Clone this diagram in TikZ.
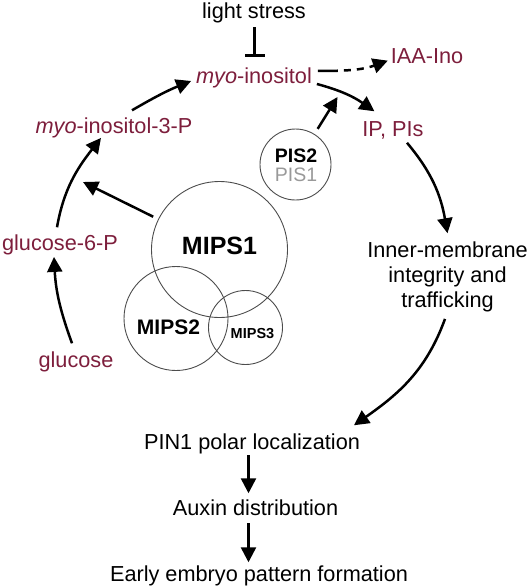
\documentclass[tikz,border=0pt]{standalone}
\usepackage{fontspec}
\setmainfont{Liberation Sans}
\usetikzlibrary{arrows.meta,calc}
\definecolor{metcol}{RGB}{125,30,60}
\begin{document}
\begin{tikzpicture}[x=1pt,y=1pt,
  every node/.style={inner sep=0pt, outer sep=0pt, font=\fontsize{21.7}{25}\selectfont},
  met/.style={text=metcol},
  arr/.style={line width=2.5pt, -{Triangle[length=15pt,width=15pt]}},
  ring/.style={circle, draw=black!70, line width=0.9pt, minimum size=#1},
  bigbold/.style={font=\fontsize{#1}{#1}\selectfont\bfseries}]
\useasboundingbox (0,0) rectangle (531,-587);
% text nodes
\node[anchor=base] (ls) at (254,-18) {light stress};
\node[anchor=base, met] (mi) at (254,-83) {\textit{myo}-inositol};
\node[anchor=base, met] (iaa) at (427,-63) {IAA-Ino};
\node[anchor=base, met] (ip) at (393,-136) {IP, PIs};
\node[anchor=north, align=center] (inner) at (447.5,-242.2) {Inner-membrane\\integrity and\\trafficking};
\node[anchor=base] (pin) at (252,-449) {PIN1 polar localization};
\node[anchor=base] (aux) at (255.5,-515.5) {Auxin distribution};
\node[anchor=base] (emb) at (259,-581) {Early embryo pattern formation};
\node[anchor=base, met] (glu) at (76,-367) {glucose};
\node[anchor=base, met] (g6p) at (60,-250) {glucose-6-P};
\node[anchor=base, met] (mi3p) at (114,-133) {\textit{myo}-inositol-3-P};
% circles
\node[ring=136pt] (mips1) at (219.5,-249.5) {};
\node[ring=104pt] (mips2) at (176,-318.5) {};
\node[ring=74pt] (mips3) at (245.5,-327.5) {};
\node[ring=71pt] (pis) at (295.5,-164.5) {};
\node[anchor=base, bigbold=25] (t1) at (219.5,-254) {MIPS1};
\node[anchor=base, bigbold=21] (t2) at (168.5,-334) {MIPS2};
\node[anchor=base, bigbold=14.5] (t3) at (252.5,-338) {MIPS3};
\node[anchor=base, bigbold=19.5] (tp2) at (296,-162.5) {PIS2};
\node[anchor=base, font=\fontsize{19.5}{19.5}\selectfont, text=black!40] (tp1) at (296,-181.5) {PIS1};
\coordinate (pisend) at (337.5,-97);
\coordinate (mipstip) at (83,-182);
% connectors
\draw[line width=2.5pt, -{Bar[width=20pt, line width=3.5pt]}] ([shift={(0.5,-4.5)}]ls.south) -- ([shift={(0.5,10)}]mi.north);
\draw[arr, dash pattern=on 20pt off 6pt on 7pt off 6pt on 7pt off 6pt] ([shift={(6,6.4)}]mi.east) to[out=0,in=200] ([shift={(-3,-5)}]iaa.west);
\draw[arr] ([shift={(5,-6.6)}]mi.east) to[out=-15,in=145] ([shift={(12,9.8)}]ip.north west);
\draw[arr] ($(pis.center)!42pt!(pisend)$) -- (pisend);
\draw[arr] ([shift={(14,-4)}]ip.south) to[out=-50,in=100] ([yshift=9]inner.north);
\draw[arr] ([shift={(-2.5,-6.5)}]inner.south) to[out=-110,in=35] ([shift={(-6,8)}]pin.north east);
\draw[arr] ($(pin.south)+(-3.5,-1.5)$) -- ($(pin.south |- aux.north)+(-3.5,6.5)$);
\draw[arr] ($(aux.south -| pin.south)+(-3.5,-7.5)$) -- ($(pin.south |- emb.north)+(-3.5,3)$);
\draw[arr] ([shift={(-4,8)}]glu.north) to[out=110,in=-87] ([shift={(-6,-2.4)}]g6p.south);
\draw[arr] ([shift={(-3,7)}]g6p.north) to[out=80,in=-128] ([shift={(-13,-0.4)}]mi3p.south);
\draw[arr] ([shift={(18,7)}]mi3p.north) to[out=30,in=-158] ([shift={(-5,-3.6)}]mi.west);
\draw[arr] ($(mips1.center)!74pt!(mipstip)$) -- (mipstip);
\end{tikzpicture}
\end{document}
